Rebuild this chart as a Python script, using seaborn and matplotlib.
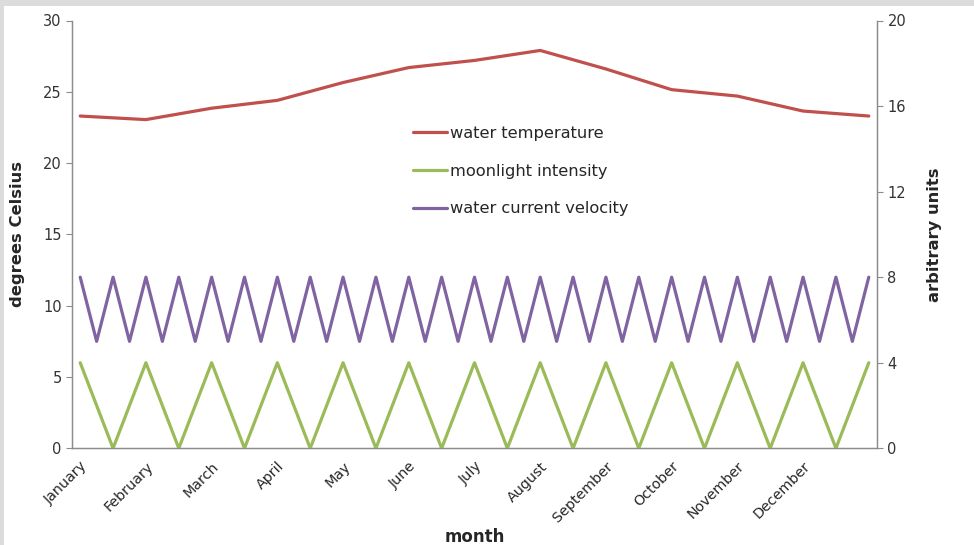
import matplotlib
matplotlib.use("Agg")
import matplotlib.pyplot as plt
import matplotlib.patches as mpatches
import seaborn as sns
import pandas as pd

# categories: 49 weekly slots, a label every 4th slot
month_labels = ["January", "February", "March", "April", "May", "June", "July",
                "August", "September", "October", "November", "December"]
week_idx = list(range(49))
month_idx = [0, 4, 8, 12, 16, 20, 24, 28, 32, 36, 40, 44, 48]

# water temperature (degrees Celsius), one value per month plus the closing point
water_temp = [23.3, 23.05, 23.85, 24.4, 25.65, 26.7, 27.2, 27.9, 26.6, 25.15, 24.7, 23.65, 23.3]

# moonlight intensity (arbitrary units)
moonlight = [4, 2, 0, 2, 4, 2, 0, 2, 4, 2, 0, 2, 4, 2, 0, 2, 4, 2, 0, 2, 4, 2, 0, 2,
             4, 2, 0, 2, 4, 2, 0, 2, 4, 2, 0, 2, 4, 2, 0, 2, 4, 2, 0, 2, 4, 2, 0, 2, 4]

# water current velocity (arbitrary units)
current = [8, 5, 8, 5, 8, 5, 8, 5, 8, 5, 8, 5, 8, 5, 8, 5, 8, 5, 8, 5, 8, 5, 8, 5,
           8, 5, 8, 5, 8, 5, 8, 5, 8, 5, 8, 5, 8, 5, 8, 5, 8, 5, 8, 5, 8, 5, 8, 5, 8]

RED, GREEN, PURPLE = "#C0504D", "#9BBB59", "#8064A2"
AXIS_GREY = "#8c8c8c"

sns.set_style("white")
plt.rcParams["font.family"] = ["DejaVu Sans"]

fig = plt.figure(figsize=(9.74, 5.45), dpi=100, facecolor="white")
# grey screenshot border along the top and left edges
fig.patches.append(mpatches.Rectangle((0, 1 - 6 / 545), 1, 6 / 545, transform=fig.transFigure,
                                      facecolor="#dcdcdc", edgecolor="none", zorder=5))
fig.patches.append(mpatches.Rectangle((0, 0), 4 / 974, 1, transform=fig.transFigure,
                                      facecolor="#dcdcdc", edgecolor="none", zorder=5))
ax = fig.add_axes([72 / 974, 1 - 448.3 / 545, 805 / 974, 427.8 / 545])
ax2 = ax.twinx()

df_temp = pd.DataFrame({"x": month_idx, "y": water_temp})
df_week = pd.DataFrame({"x": week_idx, "moon": moonlight, "cur": current})

sns.lineplot(data=df_temp, x="x", y="y", ax=ax, color=RED, linewidth=2.3,
             label="water temperature", legend=False)
sns.lineplot(data=df_week, x="x", y="moon", ax=ax2, color=GREEN, linewidth=2.3,
             label="moonlight intensity", legend=False)
sns.lineplot(data=df_week, x="x", y="cur", ax=ax2, color=PURPLE, linewidth=2.3,
             label="water current velocity", legend=False)

ax.set_xlim(-0.5, 48.5)
ax.set_ylim(0, 30)
ax2.set_ylim(0, 20)
ax.set_yticks(range(0, 31, 5))
ax2.set_yticks(range(0, 21, 4))

ax.set_xticks(month_idx[:-1])
ax.set_xticklabels(month_labels, rotation=45, ha="right", rotation_mode="anchor", fontsize=10.3)
ax.set_xticks([i - 0.5 for i in range(50)], minor=True)
ax.tick_params(axis="x", which="major", length=0, pad=8)
ax.tick_params(axis="x", which="minor", length=4, color=AXIS_GREY, direction="out")
ax.tick_params(axis="y", length=4, color=AXIS_GREY, labelsize=10.5, labelcolor="#333333")
ax2.tick_params(axis="y", length=4, color=AXIS_GREY, labelsize=10.5, labelcolor="#333333")

for a in (ax, ax2):
    a.spines["top"].set_visible(False)
    for s in ("left", "right", "bottom"):
        a.spines[s].set_color(AXIS_GREY)
        a.spines[s].set_linewidth(0.9)
    a.grid(False)

ax.set_xlabel("month", fontsize=12, fontweight="bold", labelpad=2)
ax.set_ylabel("degrees Celsius", fontsize=11.8, fontweight="bold", labelpad=13)
ax2.set_ylabel("arbitrary units", fontsize=11.8, fontweight="bold", labelpad=15)

h1, l1 = ax.get_legend_handles_labels()
h2, l2 = ax2.get_legend_handles_labels()
ax2.legend(h1 + h2, l1 + l2, loc="upper left", bbox_to_anchor=(413 / 974, 1 - 126 / 545),
           bbox_transform=fig.transFigure, frameon=False, fontsize=11.7,
           handlelength=2.1, handletextpad=0.2, labelspacing=1.4, borderpad=0,
           borderaxespad=0)

fig.savefig("out.png", dpi=100)
